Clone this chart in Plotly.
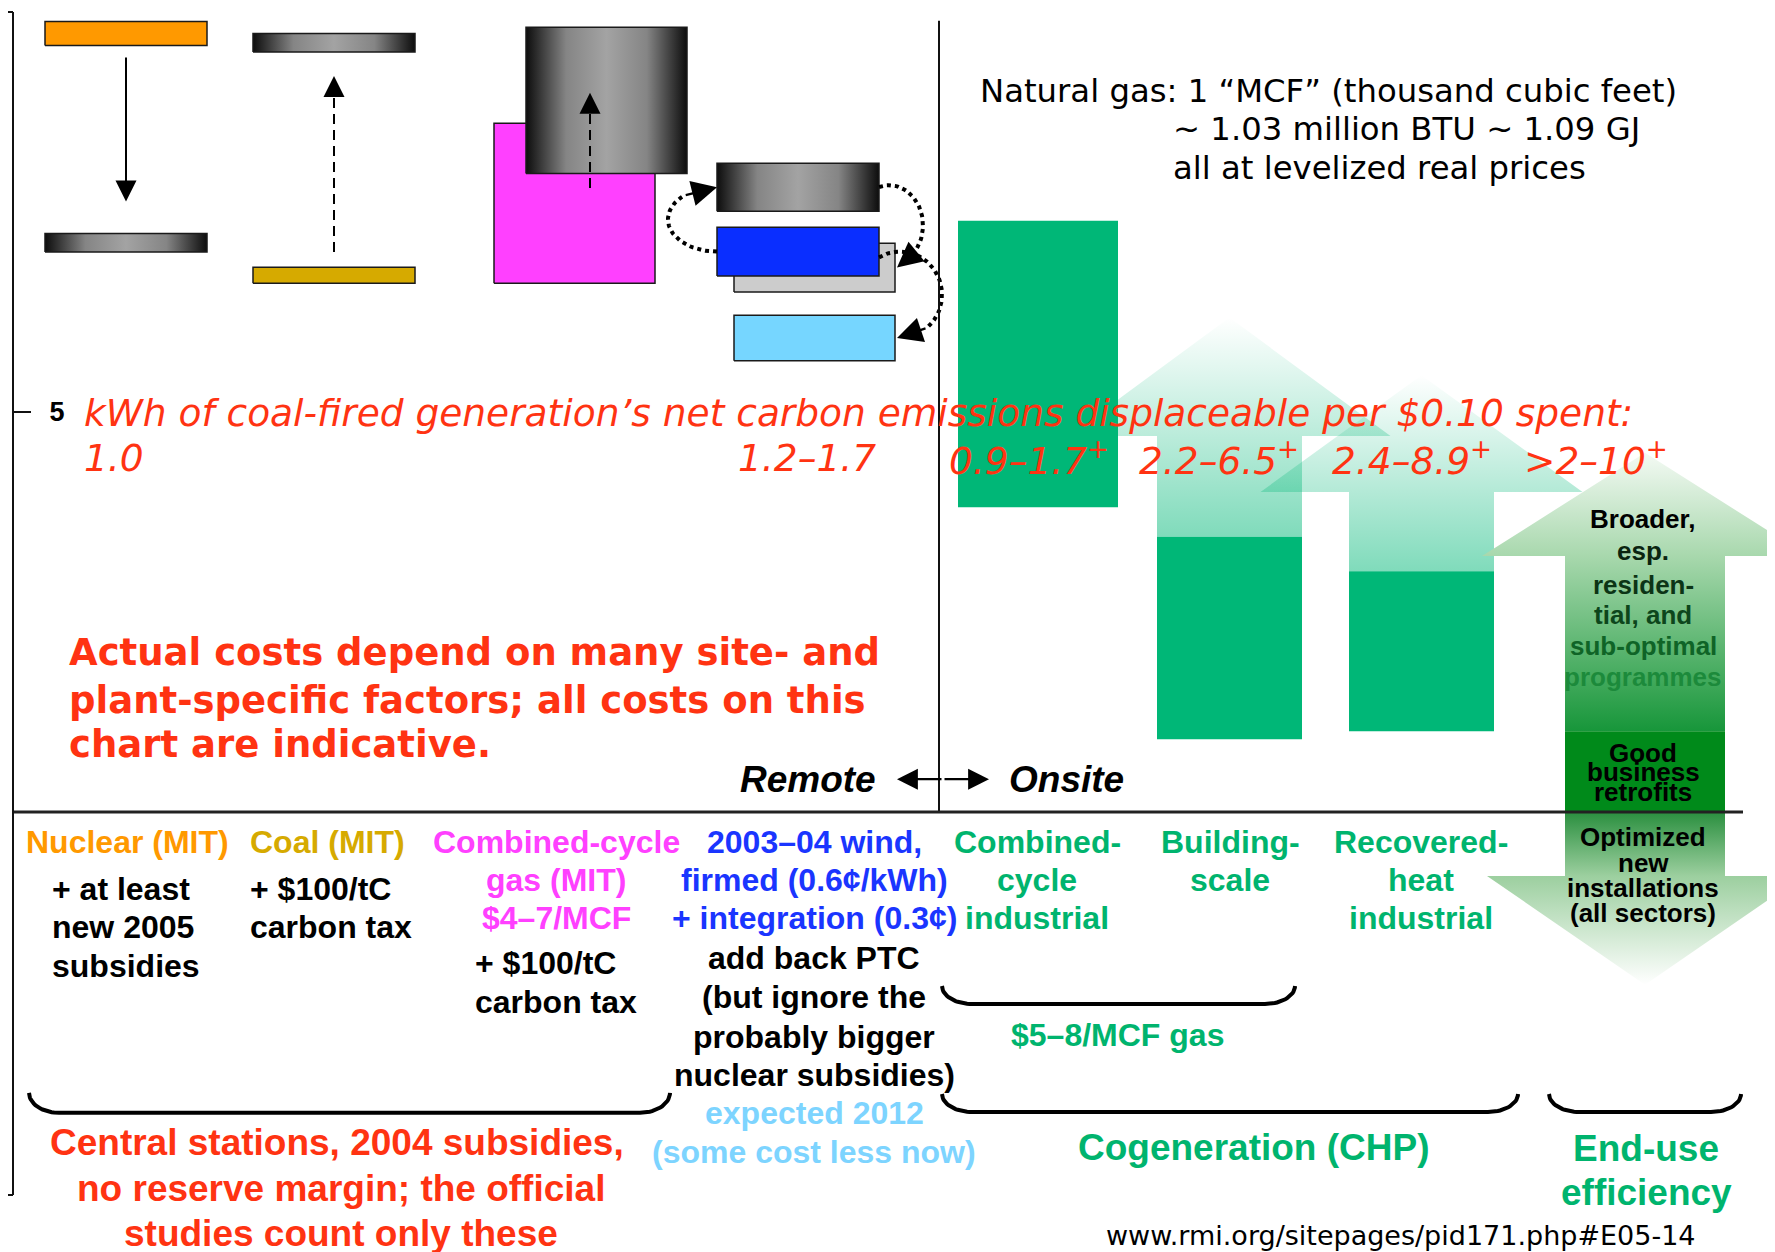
import numpy as np
import plotly.graph_objects as go

ARIAL = "Liberation Sans, Arial, sans-serif"
VERDANA = "DejaVu Sans, Verdana, sans-serif"
RED = "#ff3312"
GREEN = "#00b46e"

# ---- values: delivered cost, 2004 US cents per kWh ----
central_names = ["nuclear_mit", "nuclear_2005_subsidies", "coal_carbon_tax",
                 "coal_mit", "gas_mit", "gas_carbon_tax"]
central_low = [9.58, 7.00, 9.50, 6.61, 6.61, 7.98]
central_high = [9.88, 7.23, 9.73, 6.81, 8.61, 9.81]

wind_names = ["wind_add_back_ptc", "wind_firmed_integrated", "wind_2003_04", "wind_2012"]
wind_low = [6.50, 6.70, 7.51, 5.64]
wind_high = [7.11, 7.31, 8.11, 6.21]

chp_names = ["Combined-cycle industrial", "Building-scale", "Recovered-heat industrial"]
chp_low = [3.81, 0.91, 1.01]
chp_high = [7.39, 3.44, 3.01]
chp_upside_head = [None, 4.70, 4.00]
chp_upside_tip = [None, 6.18, 5.46]

eff_broader = [1.01, 3.20, 4.49]      # shaft bottom, head base, tip
eff_retrofit = [0.00, 1.01]
eff_new = [0.00, -0.80, -2.16]

# shifts between estimates (tail, head)
nuclear_shift = [9.43, 7.63]
coal_shift = [7.00, 9.20]
gas_shift = [7.80, 8.99]

kwh_per_dime = ["1.0", "1.2–1.7", "0.9–1.7<sup>+</sup>", "2.2–6.5<sup>+</sup>",
                "2.4–8.9<sup>+</sup>", "&gt;2–10<sup>+</sup>"]
y_tickvals = [10, 5]
y_ticktext = ["", "5"]

# ---- layout positions (x in column units) ----
YMIN, YMAX = -4.7875, 10
XMAX = 17.61
central_x = [(0.31, 1.93), (0.31, 1.93), (2.39, 4.01), (2.39, 4.01), (4.80, 6.41), (5.12, 6.73)]
wind_x = [(7.20, 8.81), (7.03, 8.65), (7.03, 8.65), (7.20, 8.81)]
chp_x = [(9.44, 11.04), (11.43, 12.88), (13.35, 14.80)]
eff_x = (15.51, 17.11)
shift_x = [1.12, 3.20, 5.76]
kwh_x = [0.68, 7.22, 9.33, 11.23, 13.16, 15.08]
divider_x = 9.25
baseline_end = 17.29
PAGE_PAD = 8  # the page body adds an 8px margin around the figure

METAL = [[0, "#0d0d0d"], [0.25, "#858585"], [0.5, "#a3a3a3"], [0.75, "#858585"], [1, "#0d0d0d"]]
central_fill = ["#ff9900", METAL, METAL, "#d6aa00", "#ff40ff", METAL]
wind_fill = ["#cccccc", "#0a2eff", METAL, "#76d6ff"]

fig = go.Figure()
ann = []


def box(x0, x1, lo, hi, fill, outline="#1a1a1a", width=1.5):
    tr = go.Scatter(x=[x0, x1, x1, x0, x0], y=[lo, lo, hi, hi, lo], mode="lines",
                    fill="toself", line=dict(color=outline, width=width),
                    hoverinfo="skip", showlegend=False)
    if isinstance(fill, list):
        tr.fillgradient = dict(type="horizontal", colorscale=fill)
    else:
        tr.fillcolor = fill
    fig.add_trace(tr)


def block_arrow(x0, x1, half_head, base, head_base, tip, colorscale):
    xc = (x0 + x1) / 2
    xs = [x0, x0, xc - half_head, xc, xc + half_head, x1, x1, x0]
    ys = [base, head_base, head_base, tip, head_base, head_base, base, base]
    fig.add_trace(go.Scatter(x=xs, y=ys, mode="lines", fill="toself", line=dict(width=0),
                             fillgradient=dict(type="vertical", colorscale=colorscale),
                             hoverinfo="skip", showlegend=False))


def line(xs, ys, color="#111", width=2, dash="solid"):
    fig.add_trace(go.Scatter(x=xs, y=ys, mode="lines", line=dict(color=color, width=width, dash=dash),
                             hoverinfo="skip", showlegend=False))


def head(x, y, ax, ay, size=2.0, width=2.0):
    ann.append(dict(x=x, y=y, ax=ax, ay=ay, xref="x", yref="y", axref="x", ayref="y",
                    text="", showarrow=True, arrowhead=2, arrowsize=size, arrowwidth=width,
                    arrowcolor="black", standoff=0))


def arc(cx, cy, rx, ry, a0, a1):
    t = np.radians(np.linspace(a0, a1, 60))
    return cx + rx * np.cos(t), cy + ry * np.sin(t)


def brace(x0, x1, top, bottom, r=0.3):
    h = top - bottom
    t1 = np.radians(np.linspace(180, 270, 20))
    t2 = np.radians(np.linspace(270, 360, 20))
    xs = list(x0 + r + r * np.cos(t1)) + list(x1 - r + r * np.cos(t2))
    ys = list(top + h * np.sin(t1)) + list(top + h * np.sin(t2))
    line(xs, ys, color="black", width=4)


def py(v):
    return (v - YMIN) / (YMAX - YMIN)


def txt(x, y, s, size, color="black", fam=ARIAL, anchor="center", bold=True, italic=False, yref="y"):
    ann.append(dict(x=x, y=y, xref="x", yref=yref, text=s, showarrow=False, xanchor=anchor,
                    yanchor="middle",
                    font=dict(family=fam, size=size, color=color,
                              weight="bold" if bold else "normal",
                              style="italic" if italic else "normal")))


# CHP "upside" arrows (semi-transparent), then end-use efficiency arrows
mint = [[0, "rgba(0,183,119,0.5)"], [1, "rgba(0,183,119,0.0)"]]
for (x0, x1), lo, hd, tp in zip(chp_x, chp_high, chp_upside_head, chp_upside_tip):
    if hd is not None:
        block_arrow(x0, x1, 1.61, lo, hd, tp, mint)

block_arrow(*eff_x, 1.63, eff_broader[0], eff_broader[1], eff_broader[2],
            [[0, "#17963a"], [0.63, "#a8d8ad"], [1, "#f4faf4"]])
box(eff_x[0], eff_x[1], eff_retrofit[0], eff_retrofit[1], "#008a1a", width=0)
block_arrow(*eff_x, 1.58, eff_new[0], eff_new[1], eff_new[2],
            [[0, "#ffffff"], [0.63, "#9ccf9f"], [1, "#2a8f3f"]])

for (x0, x1), lo, hi in zip(chp_x, chp_low, chp_high):
    box(x0, x1, lo, hi, "#00b777", width=0)

for (x0, x1), lo, hi, f in zip(central_x, central_low, central_high, central_fill):
    box(x0, x1, lo, hi, f)
for (x0, x1), lo, hi, f in zip(wind_x, wind_low, wind_high, wind_fill):
    box(x0, x1, lo, hi, f)

# shift arrows
for xc, (tail, tip), dash in zip(shift_x, [nuclear_shift, coal_shift, gas_shift],
                                 ["solid", "10px,6px", "10px,6px"]):
    step = 0.25 if tip > tail else -0.25
    line([xc, xc], [tail, tip - step], color="black", width=2, dash=dash)
    head(xc, tip, xc, tip - step, size=2.1, width=2)

# dotted loops between the wind estimates
mid = [(lo + hi) / 2 for lo, hi in zip(wind_low, wind_high)]
xs, ys = arc(wind_x[1][0], (mid[1] + mid[2]) / 2, 0.49, (mid[2] - mid[1]) / 2, -90, -228)
line(xs, ys, color="black", width=4, dash="dot")
head(wind_x[2][0], mid[2], xs[-1], ys[-1], size=2.3, width=2.2)

xs, ys = arc(8.75, (mid[2] + mid[0] + 0.05) / 2, 0.34, (mid[2] - mid[0]) / 2, 107, -50)
line(xs, ys, color="black", width=4, dash="dot")
head(wind_x[0][1] + 0.02, mid[0], xs[-1], ys[-1], size=2.3, width=2.2)

xs, ys = arc(8.86, (mid[1] + mid[3]) / 2, 0.42, (mid[1] - mid[3]) / 2, 120, -50)
line(xs, ys, color="black", width=4, dash="dot")
head(wind_x[3][1] + 0.02, mid[3], xs[-1], ys[-1], size=2.3, width=2.2)

# remote / onsite divider and baseline
line([divider_x, divider_x], [0, 9.89], color="#111", width=2)
line([0, baseline_end], [0, 0], color="#222", width=3)

# braces
brace(0.15, 6.56, -3.51, -3.76)
brace(9.28, 12.81, -2.175, -2.40)
brace(9.28, 15.04, -3.525, -3.75)
brace(15.35, 17.27, -3.525, -3.75)

# Remote <-> Onsite arrows
head(8.83, 0.41, 9.29, 0.41, size=1.9, width=2.2)
head(9.75, 0.41, 9.29, 0.41, size=1.9, width=2.2)

# ---- text ----
txt(0.68, 4.99, "kWh of coal-fired generation’s net carbon emissions displaceable per $0.10 spent:",
    37.5, RED, VERDANA, "left", bold=False, italic=True)
for x, s in zip(kwh_x, kwh_per_dime):
    txt(x, 4.425, s, 37.5, RED, VERDANA, "left", bold=False, italic=True)

txt(9.64, 9.01, "Natural gas: 1 “MCF” (thousand cubic feet)", 32.3, "black", VERDANA, "left", bold=False)
txt(11.57, 8.54, "~ 1.03 million BTU ~ 1.09 GJ", 32.3, "black", VERDANA, "left", bold=False)
txt(11.57, 8.05, "all at levelized real prices", 32.3, "black", VERDANA, "left", bold=False)

for y, s in zip([1.99, 1.40, 0.84], ["Actual costs depend on many site- and",
                                     "plant-specific factors; all costs on this",
                                     "chart are indicative."]):
    txt(0.53, y, s, 37, RED, VERDANA, "left")

txt(8.64, 0.41, "Remote", 37, "black", ARIAL, "right", italic=True)
txt(9.93, 0.41, "Onsite", 37, "black", ARIAL, "left", italic=True)

LAB = 32
rows = [-0.375, -0.85, -1.325]
txt(0.10, rows[0], "Nuclear (MIT)", LAB, "#ff9900", anchor="left")
txt(2.34, rows[0], "Coal (MIT)", LAB, "#d6aa00", anchor="left")
for y, s in zip(rows, ["Combined-cycle", "gas (MIT)", "$4–7/MCF"]):
    txt(5.42, y, s, LAB, "#ff40ff")
for y, s in zip([-0.96, -1.44, -1.925], ["+ at least", "new 2005", "subsidies"]):
    txt(0.36, y, s, LAB, anchor="left")
for y, s in zip([-0.96, -1.44], ["+ $100/tC", "carbon tax"]):
    txt(2.34, y, s, LAB, anchor="left")
for y, s in zip([-1.89, -2.375], ["+ $100/tC", "carbon tax"]):
    txt(4.59, y, s, LAB, anchor="left")

for y, s in zip(rows, ["2003–04 wind,", "firmed (0.6¢/kWh)", "+ integration (0.3¢)"]):
    txt(8.00, y, s, LAB, "#1a35ff")
for y, s in zip([-1.825, -2.31, -2.81, -3.29],
                ["add back PTC", "(but ignore the", "probably bigger", "nuclear subsidies)"]):
    txt(8.00, y, s, LAB)
txt(8.00, -3.76, "expected 2012", LAB, "#7dd4ff")
txt(8.00, -4.25, "(some cost less now)", LAB, "#7dd4ff")

for xc, lines_ in zip([10.23, 12.16, 14.07],
                      [["Combined-", "cycle", "industrial"], ["Building-", "scale"],
                       ["Recovered-", "heat", "industrial"]]):
    for y, s in zip(rows, lines_):
        txt(xc, y, s, LAB, GREEN)
txt(11.03, -2.79, "$5–8/MCF gas", LAB, GREEN)

txt(3.23, -4.125, "Central stations, 2004 subsidies,", 37, RED)
txt(3.27, -4.70, "no reserve margin; the official", 37, RED)
txt(3.27, py(-5.2625), "studies count only these", 37, RED, yref="paper")
txt(12.40, -4.19, "Cogeneration (CHP)", 37, GREEN)
txt(16.32, -4.20, "End-use", 37, GREEN)
txt(16.32, -4.76, "efficiency", 37, GREEN)
txt(16.84, py(-5.2875), "www.rmi.org/sitepages/pid171.php#E05-14", 27, "black", VERDANA,
    "right", bold=False, yref="paper")

for y, s, c in zip([3.66, 3.26, 2.84, 2.46, 2.075, 1.69],
                   ["Broader,", "esp.", "residen-", "tial, and", "sub-optimal", "programmes"],
                   ["#000000", "#0a2410", "#0c3416", "#0d461c", "#0f6427", "#1c8a3b"]):
    txt(16.29, y, s, 26, c)
for y, s in zip([0.74, 0.50, 0.25], ["Good", "business", "retrofits"]):
    txt(16.29, y, s, 26)
for y, s in zip([-0.31, -0.64, -0.95, -1.26], ["Optimized", "new", "installations", "(all sectors)"]):
    txt(16.29, y, s, 26)

# invisible trace so the second y axis (outer ticks) is drawn
fig.add_trace(go.Scatter(x=[0], y=[0], yaxis="y2", mode="markers", marker=dict(opacity=0),
                         hoverinfo="skip", showlegend=False))

fig.update_layout(
    width=1775 - PAGE_PAD, height=1252 - PAGE_PAD,
    margin=dict(l=14 - PAGE_PAD, r=0, t=12 - PAGE_PAD, b=57),
    paper_bgcolor="white", plot_bgcolor="white",
    showlegend=False,
    annotations=ann,
    xaxis=dict(visible=False, range=[0, XMAX], fixedrange=True, automargin=False),
    yaxis=dict(range=[YMIN, YMAX], showgrid=False, zeroline=False, showline=True, automargin=False,
               linecolor="#111", linewidth=2, ticks="inside", ticklen=17, tickwidth=2,
               tickcolor="#111", tickvals=y_tickvals + [YMIN], ticktext=y_ticktext + [""],
               ticklabelposition="inside", ticklabelstandoff=21,
               tickfont=dict(family=ARIAL, size=27, color="black", weight="bold")),
    yaxis2=dict(range=[YMIN, YMAX], overlaying="y", anchor="x", showgrid=False, zeroline=False,
                showline=False, ticks="outside", ticklen=14, tickwidth=2, tickcolor="#111",
                tickvals=[YMAX, YMIN], showticklabels=False, automargin=False),
)

fig.write_html("out.html")
